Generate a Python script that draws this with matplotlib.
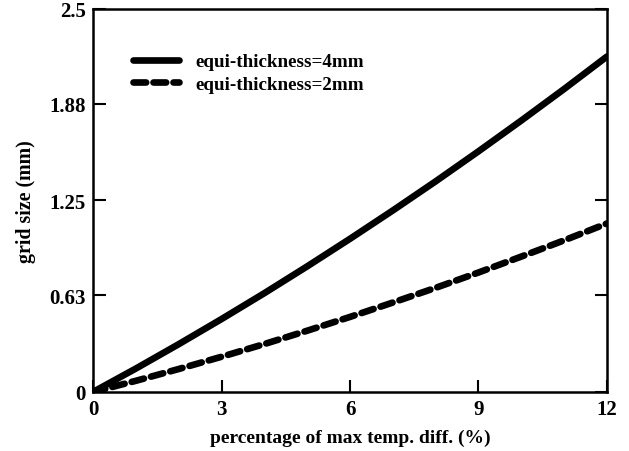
import matplotlib
matplotlib.use("Agg")
import matplotlib.pyplot as plt

plt.rcParams['font.family'] = ['Liberation Serif', 'DejaVu Serif']
plt.rcParams['font.weight'] = 'bold'

x_vals = [0, 1, 2, 3, 4, 5, 6, 7, 8, 9, 10, 11, 12]
grid_4mm = [0, 0.153, 0.312, 0.476, 0.645, 0.82, 1.0, 1.185, 1.375, 1.571, 1.772, 1.978, 2.19]
grid_2mm = [0, 0.073, 0.150, 0.23, 0.313, 0.40, 0.49, 0.584, 0.68, 0.78, 0.884, 0.99, 1.10]

x_ticks = [0, 3, 6, 9, 12]
y_ticks = [0, 0.63, 1.25, 1.88, 2.5]
y_ticklabels = ['0', '0.63', '1.25', '1.88', '2.5']

fig = plt.figure(figsize=(6.29, 4.52), dpi=100)
ax = fig.add_axes([93/629, 1 - 393/452, (607-93)/629, (393-10)/452])

ax.plot(x_vals, grid_4mm, color='black', lw=4.8, solid_capstyle='round',
        label='equi-thickness=4mm')
ax.plot(x_vals, grid_2mm, color='black', lw=4.8, dashes=(1.9, 1.1),
        dash_capstyle='round', label='equi-thickness=2mm')

ax.set_xlim(0, 12)
ax.set_ylim(0, 2.5)
ax.set_xticks(x_ticks)
ax.set_xticklabels([str(t) for t in x_ticks])
ax.set_yticks(y_ticks)
ax.set_yticklabels(y_ticklabels)
ax.tick_params(direction='in', length=9, width=1.5, labelsize=15,
               right=True, top=False, pad=5)
for s in ax.spines.values():
    s.set_linewidth(1.8)

ax.set_xlabel('percentage of max temp. diff. (%)', fontsize=14, fontweight='bold', labelpad=7)
ax.set_ylabel('grid size (mm)', fontsize=14.3, fontweight='bold', labelpad=10)

leg = ax.legend(loc='upper left', bbox_to_anchor=(0.045, 0.93), frameon=False,
                fontsize=13.7, handlelength=2.4, handletextpad=0.85, labelspacing=0.28)
for t in leg.get_texts():
    t.set_fontweight('bold')

fig.savefig('out.png', dpi=100)
